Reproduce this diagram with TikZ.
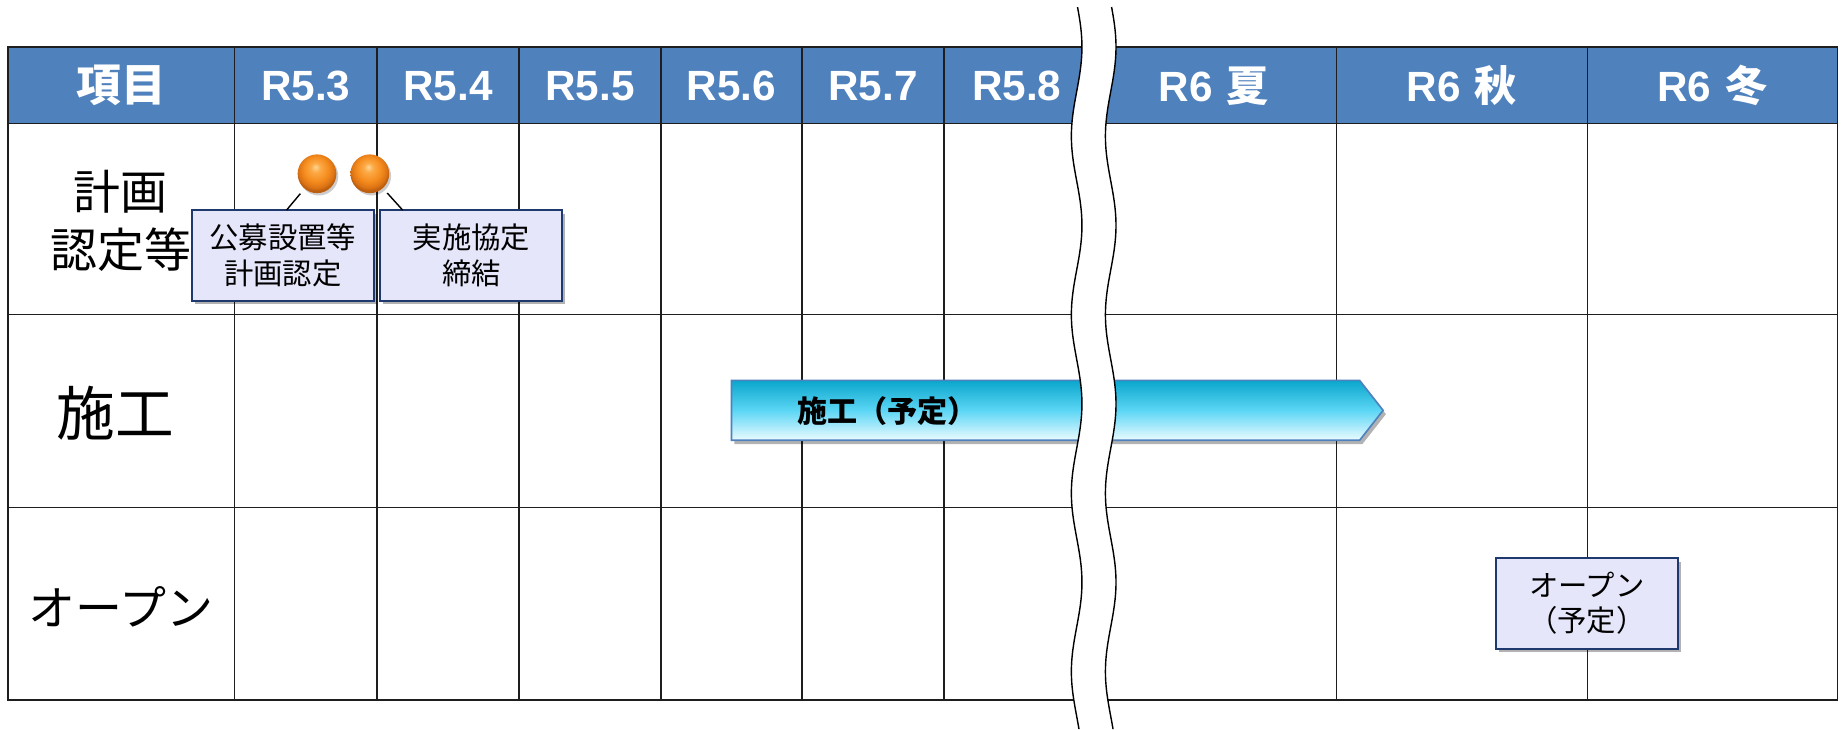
\documentclass[tikz,border=0pt]{standalone}
\usepackage{fontspec}
\setmainfont{Noto Sans CJK JP}
\newfontfamily\lat{Liberation Sans}
\usetikzlibrary{shadows,calc}
\definecolor{hdr}{RGB}{79,129,189}
\definecolor{gridc}{RGB}{30,30,30}
\definecolor{boxfill}{RGB}{230,230,250}
\definecolor{boxline}{RGB}{31,56,110}
\definecolor{arrtop}{RGB}{10,166,204}
\definecolor{arrmid}{RGB}{92,214,245}
\definecolor{arrbot}{RGB}{235,251,255}
\definecolor{arrline}{RGB}{79,129,189}
\pgfdeclareradialshading{orangeball}{\pgfqpoint{-2bp}{9bp}}{%
  color(0bp)=(rgb,255:red,255;green,214;blue,150);
  color(6bp)=(rgb,255:red,252;green,170;blue,70);
  color(16bp)=(rgb,255:red,245;green,140;blue,30);
  color(23bp)=(rgb,255:red,220;green,115;blue,20);
  color(26bp)=(rgb,255:red,190;green,95;blue,15);
  color(50bp)=(rgb,255:red,190;green,95;blue,15)}
\tikzset{
  gridline/.style={draw=gridc, line width=0.55pt},
  hdrtext/.style={text=white, font=\fontsize{18}{20}\selectfont\bfseries, inner sep=0pt},
  rowlabel/.style={font=\fontsize{20}{25}\selectfont, align=center, inner sep=0pt},
  softshadow/.style={drop shadow={shadow xshift=1.2pt, shadow yshift=-1.6pt, opacity=0.3, fill=black}},
  callbox/.style={draw=boxline, line width=0.85pt, fill=boxfill, inner sep=0pt,
    minimum width=77.5pt, minimum height=38.5pt, align=center,
    font=\fontsize{12.5}{15}\selectfont, softshadow},
  ballnode/.style={circle, inner sep=0pt, minimum size=16.5pt, shading=orangeball,
    drop shadow={shadow xshift=0.8pt, shadow yshift=-1pt, opacity=0.2, fill=black}},
  leader/.style={draw=black, line width=0.6pt},
  wave/.style={draw=black, line width=0.6pt},
}
\begin{document}
\begin{tikzpicture}[x=0.5pt,y=-0.5pt]
\useasboundingbox (0,0) rectangle (1568,621);
\fill[white] (0,0) rectangle (1568,621);
% header band
\fill[hdr] (7,40) rectangle (1565,105);
% grid
\foreach \yy in {105,268,432} \draw[gridline] (7,\yy) -- (1565,\yy);
\foreach \xx in {200,321,442,563,683,804,930,1138,1352} \draw[gridline] (\xx,40) -- (\xx,596);
\draw[gridline, line width=0.8pt] (7,40) rectangle (1565,596);
% header labels
\node[hdrtext] (h0) at (103.5,73) {\fontsize{19}{20}\selectfont 項目};
\node[hdrtext] (h1) at (260.5,73) {\lat R5.3};
\node[hdrtext] (h2) at (381.5,73) {\lat R5.4};
\node[hdrtext] (h3) at (502.5,73) {\lat R5.5};
\node[hdrtext] (h4) at (623,73) {\lat R5.6};
\node[hdrtext] (h5) at (743.5,73) {\lat R5.7};
\node[hdrtext] (h6) at (866,73) {\lat R5.8};
\node[hdrtext] (h7) at (1034,73) {{\lat R6}\hspace{6pt}夏};
\node[hdrtext] (h8) at (1245,73) {{\lat R6}\hspace{6pt}秋};
\node[hdrtext] (h9) at (1458.5,73) {{\lat R6}\hspace{6pt}冬};
% row labels
\node[rowlabel] (r1) at (103,188) {計画\\認定等};
\node[rowlabel, font=\fontsize{25}{28}\selectfont] (r2) at (98,352) {施工};
\node[rowlabel] (r3) at (103,517) {オープン};
% construction arrow
\path[shade, top color=arrtop, bottom color=arrbot, middle color=arrmid,
      draw=arrline, line width=0.7pt, softshadow]
  (623,324) -- (1158,324) -- (1178,349.5) -- (1158,375) -- (623,375) -- cycle;
\node[font=\fontsize{12.8}{14}\selectfont\bfseries, inner sep=0pt] (arrlabel) at (756,350) {施工（予定）};
% balls and callouts
\node[ballnode] (ball1) at (270,148) {};
\node[ballnode] (ball2) at (315,148) {};
\node[callbox] (box1) at (241,217.5) {公募設置等\\計画認定};
\node[callbox] (box2) at (401.5,217.5) {実施協定\\締結};
\node[callbox] (box3) at (1351.5,514) {オープン\\（予定）};
\coordinate (t1) at (244,179);
\coordinate (t2) at (343,179);
\draw[leader, shorten >=2.6pt] (t1) -- (ball1);
\draw[leader, shorten >=2.6pt] (t2) -- (ball2);
% break band
\fill[white] plot[domain=6:621, samples=140, smooth] ({917+4.5*cos(2.3684*(\x-40))},{\x})
  -- plot[domain=621:6, samples=140, smooth] ({946+4.5*cos(2.3684*(\x-40))},{\x}) -- cycle;
\draw[wave] plot[domain=6:621, samples=140, smooth] ({917+4.5*cos(2.3684*(\x-40))},{\x});
\draw[wave] plot[domain=6:621, samples=140, smooth] ({946+4.5*cos(2.3684*(\x-40))},{\x});
\end{tikzpicture}
\end{document}
